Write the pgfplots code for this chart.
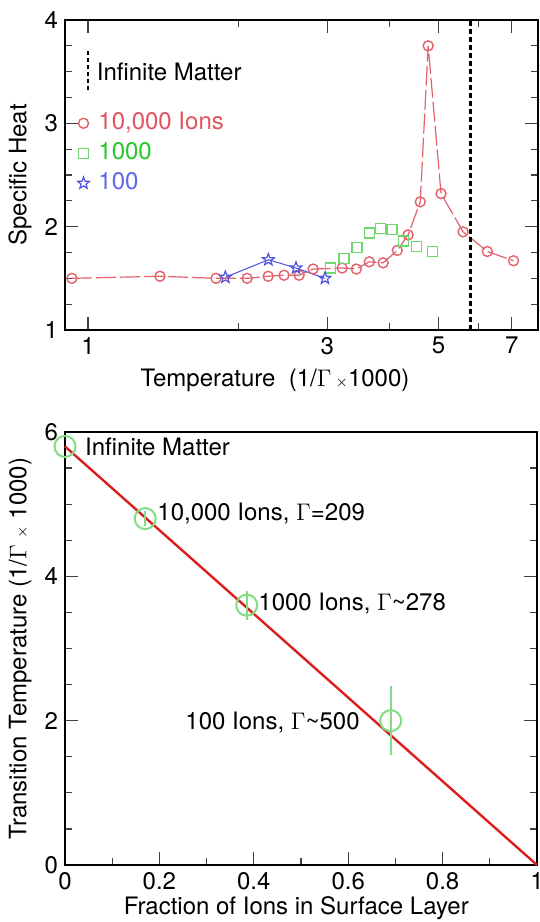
\documentclass[border=0pt]{standalone}
\usepackage{pgfplots}
\pgfplotsset{compat=1.18}
\usepackage{fontspec}
\setmainfont{TeX Gyre Heros}
\definecolor{cred}{RGB}{228,96,106}
\definecolor{cgreen}{RGB}{110,215,110}
\definecolor{cblue}{RGB}{80,80,225}
\definecolor{lred}{RGB}{225,85,95}
\definecolor{lgreen}{RGB}{40,200,40}
\definecolor{lblue}{RGB}{95,105,235}
\definecolor{bred}{RGB}{220,30,30}
\definecolor{bgreen}{RGB}{130,220,130}
\pgfdeclareplotmark{ostar}{%
  \pgfpathmoveto{\pgfpointpolar{90}{\pgfplotmarksize}}%
  \pgfpathlineto{\pgfpointpolar{126}{0.42\pgfplotmarksize}}%
  \pgfpathlineto{\pgfpointpolar{162}{\pgfplotmarksize}}%
  \pgfpathlineto{\pgfpointpolar{198}{0.42\pgfplotmarksize}}%
  \pgfpathlineto{\pgfpointpolar{234}{\pgfplotmarksize}}%
  \pgfpathlineto{\pgfpointpolar{270}{0.42\pgfplotmarksize}}%
  \pgfpathlineto{\pgfpointpolar{306}{\pgfplotmarksize}}%
  \pgfpathlineto{\pgfpointpolar{342}{0.42\pgfplotmarksize}}%
  \pgfpathlineto{\pgfpointpolar{18}{\pgfplotmarksize}}%
  \pgfpathlineto{\pgfpointpolar{54}{0.42\pgfplotmarksize}}%
  \pgfpathclose\pgfusepathqstroke}
\begin{document}
\begin{tikzpicture}
\pgfplotsset{
  every axis/.append style={
    scale only axis,
    font=\fontsize{12}{14}\selectfont,
    /pgf/number format/assume math mode=true,
    axis line style={line width=1pt},
    every tick/.style={line width=0.6pt, black!75},
    major tick length=6.5pt, minor tick length=3.5pt,
    tick align=inside,
    clip=false,
  }
}
% ---------- top panel ----------
\begin{axis}[
  at={(32.5pt,296pt)}, anchor=south west,
  width=236.5pt, height=155pt,
  xmode=log, xmin=0.9, xmax=7.9, ymin=1, ymax=4,
  xtick={1,3,5,7}, xticklabels={1,3,5,7},
  minor xtick={2,4,6},
  ytick={1,2,3,4}, minor y tick num=3,
  xlabel={Temperature\ \ (1/$\Gamma$\,{\scriptsize$\times$}1000)},
  ylabel={Specific Heat},
  xlabel style={at={(axis description cs:0.444,-0.161)}, anchor=center},
  ylabel style={at={(axis description cs:-0.095,0.5)}, anchor=center},
  legend style={at={(axis cs:0.952,2.71)}, anchor=west, draw=none, fill=none,
    inner sep=0pt, row sep=0pt, column sep=2.5pt,
    nodes={text height=8.6pt, text depth=2pt, inner ysep=2.2pt, inner xsep=2pt}},
  legend cell align=left,
]
\addplot[cred, line width=0.6pt, dash pattern=on 10pt off 2pt, mark=o, mark size=2.5pt,
  mark options={solid, line width=0.7pt},
  legend image code/.code={\draw[solid] plot[only marks] coordinates {(0.12cm,0cm)};}]
coordinates {
(0.929,1.50) (1.392,1.52) (1.801,1.50) (2.077,1.50) (2.288,1.52) (2.461,1.53)
(2.637,1.53) (2.812,1.59) (3.214,1.60) (3.43,1.59) (3.64,1.66) (3.88,1.65)
(4.14,1.77) (4.35,1.92) (4.60,2.24) (4.77,3.75) (5.06,2.32) (5.60,1.95)
(6.26,1.76) (7.06,1.67)
};
\addlegendentry{\textcolor{lred}{10,000 Ions}}
\addplot[cgreen, only marks, mark=square, mark size=2.5pt, mark options={line width=0.7pt},
  legend image code/.code={\draw[solid] plot[only marks] coordinates {(0.12cm,0cm)};}]
coordinates {
(3.05,1.60) (3.24,1.69) (3.44,1.80) (3.64,1.94) (3.83,1.98) (4.04,1.97)
(4.26,1.86) (4.52,1.81) (4.87,1.76)
};
\addlegendentry{\textcolor{lgreen}{1000}}
\addplot[cblue, line width=0.5pt, mark=ostar, mark size=3.1pt, mark options={line width=0.6pt},
  legend image code/.code={\draw[solid] plot[only marks] coordinates {(0.12cm,0cm)};}]
coordinates {
(1.88,1.51) (2.29,1.68) (2.60,1.60) (2.97,1.50)
};
\addlegendentry{\textcolor{lblue}{100}}
\addplot[forget plot, black, line width=1.3pt, dash pattern=on 2.5pt off 1.5pt]
coordinates {(5.8,1) (5.8,4)};
\addplot[forget plot, black, line width=1.1pt, dash pattern=on 2pt off 1.5pt]
coordinates {(1,3.32) (1,3.71)};
\node[anchor=west, inner sep=0pt] at (axis cs:1.04,3.5) {Infinite Matter};
\end{axis}
% ---------- bottom panel ----------
\begin{axis}[
  at={(32.5pt,28.5pt)}, anchor=south west,
  width=236pt, height=216.5pt,
  xmin=0, xmax=1, ymin=0, ymax=6,
  xtick={0,0.2,0.4,0.6,0.8,1}, minor x tick num=1,
  xticklabels={0,0.2,0.4,0.6,0.8,1},
  ytick={0,2,4,6}, minor y tick num=3,
  xtick pos=left,
  xlabel={Fraction of Ions in Surface Layer},
  ylabel={Transition Temperature (1/$\Gamma$ {\scriptsize$\times$} 1000)},
  xlabel style={at={(axis description cs:0.49,-0.099)}, anchor=center},
  ylabel style={at={(axis description cs:-0.095,0.5)}, anchor=center},
]
\addplot[bred, line width=1.2pt] coordinates {(0,5.8) (1,0)};
\addplot[bgreen, only marks, mark=o, mark size=5.25pt, mark options={line width=1pt},
  error bars/.cd, y dir=both, y explicit, error mark=none,
  error bar style={line width=1pt, bgreen}]
coordinates {
(0,5.8) +- (0,0)
(0.17,4.8) +- (0,0.1)
(0.385,3.6) +- (0,0.2)
(0.69,2.0) +- (0,0.48)
};
\node[anchor=west, inner sep=0pt] at (axis cs:0.042,5.80) {Infinite Matter};
\node[anchor=west, inner sep=0pt] at (axis cs:0.195,4.87) {10,000 Ions, $\Gamma$=209};
\node[anchor=west, inner sep=0pt] at (axis cs:0.409,3.63) {1000 Ions, $\Gamma$\textasciitilde278};
\node[anchor=east, inner sep=0pt] at (axis cs:0.625,1.97) {100 Ions, $\Gamma$\textasciitilde500};
\end{axis}
\pgfresetboundingbox
\path (0pt,0pt) rectangle (270pt,461pt);
\end{tikzpicture}
\end{document}
